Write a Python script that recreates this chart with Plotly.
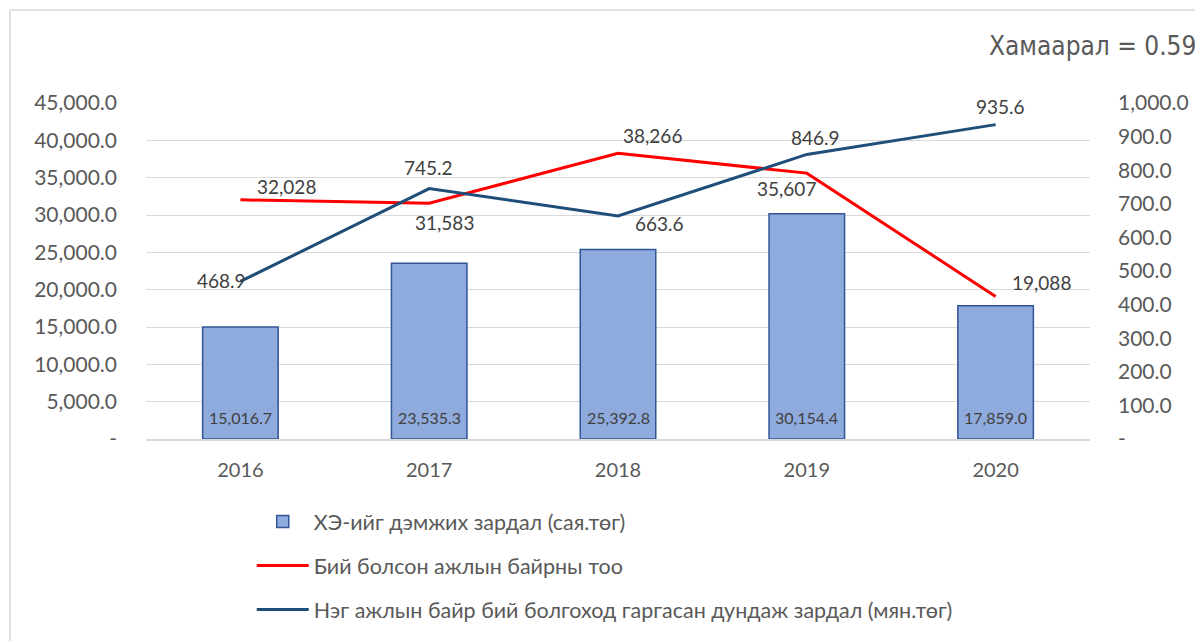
import plotly.graph_objects as go

years = ["2016", "2017", "2018", "2019", "2020"]
support_cost = [15016.7, 23535.3, 25392.8, 30154.4, 17859.0]
jobs_created = [32028, 31583, 38266, 35607, 19088]
avg_cost = [468.9, 745.2, 663.6, 846.9, 935.6]

support_labels = ["15,016.7", "23,535.3", "25,392.8", "30,154.4", "17,859.0"]
jobs_labels = ["32,028", "31,583", "38,266", "35,607", "19,088"]
avg_labels = ["468.9", "745.2", "663.6", "846.9", "935.6"]

left_ticks = [0, 5000, 10000, 15000, 20000, 25000, 30000, 35000, 40000, 45000]
left_ticktext = ["-", "5,000.0", "10,000.0", "15,000.0", "20,000.0", "25,000.0",
                 "30,000.0", "35,000.0", "40,000.0", "45,000.0"]
right_ticks = [0, 100, 200, 300, 400, 500, 600, 700, 800, 900, 1000]
right_ticktext = ["-", "100.0", "200.0", "300.0", "400.0", "500.0", "600.0",
                  "700.0", "800.0", "900.0", "1,000.0"]

name_bar = "ХЭ-ийг дэмжих зардал (сая.төг)"
name_red = "Бий болсон ажлын байрны тоо"
name_blue = "Нэг ажлын байр бий болгоход гаргасан дундаж зардал (мян.төг)"
title_text = "Хамаарал = 0.59"

# label offsets (style only)
red_shift = [(46, 13), (15, -19), (34, 18), (-20, -15), (46, 14)]
blue_shift = [(-19, 1), (-1, 21), (41, -7), (9, 17), (5, 18)]

FONT = "Lato, 'Open Sans', sans-serif"
TXT = "#404040"
TICK = "#595959"

fig = go.Figure()
fig.add_trace(go.Bar(
    x=years, y=support_cost, name=name_bar, legendgroup="a",
    marker=dict(color="#8FAADC", line=dict(color="#2F5597", width=1.5)),
    width=0.4,
))
fig.add_trace(go.Scatter(
    x=years, y=jobs_created, name=name_red, legendgroup="b", mode="lines",
    line=dict(color="#FF0000", width=3),
))
fig.add_trace(go.Scatter(
    x=years, y=avg_cost, name=name_blue, legendgroup="c", mode="lines",
    line=dict(color="#1F4E79", width=3), yaxis="y2",
))

annotations = []
for i, (v, t) in enumerate(zip(support_cost, support_labels)):
    annotations.append(dict(x=i, y=0, xref="x", yref="y", text=t, showarrow=False,
                            yshift=22, font=dict(family=FONT, size=16, color=TXT)))
for i, (v, t, (dx, dy)) in enumerate(zip(jobs_created, jobs_labels, red_shift)):
    annotations.append(dict(x=i, y=v, xref="x", yref="y", text=t, showarrow=False,
                            xshift=dx, yshift=dy, font=dict(family=FONT, size=19, color=TXT)))
for i, (v, t, (dx, dy)) in enumerate(zip(avg_cost, avg_labels, blue_shift)):
    annotations.append(dict(x=i, y=v, xref="x", yref="y2", text=t, showarrow=False,
                            xshift=dx, yshift=dy, font=dict(family=FONT, size=19, color=TXT)))
annotations.append(dict(x=0.891, y=1.17, xref="paper", yref="paper", text=title_text,
                        showarrow=False, xanchor="left", yanchor="middle",
                        font=dict(family="'DejaVu Sans Condensed', 'Liberation Sans Narrow', sans-serif",
                                  size=26, color=TICK)))

fig.update_layout(
    width=1195, height=633,
    margin=dict(l=138, r=113, t=95, b=202),
    paper_bgcolor="white", plot_bgcolor="white",
    font=dict(family=FONT, size=17, color=TICK),
    showlegend=True,
    legend=dict(orientation="v", x=0.112, y=0.221, xanchor="left", yanchor="top",
                yref="container",
                font=dict(family=FONT, size=21.5, color=TICK),
                tracegroupgap=13, itemwidth=52, traceorder="grouped"),
    xaxis=dict(type="category", range=[-0.5, len(years) - 0.5], showgrid=False,
               showline=True, linecolor="#D9D9D9",
               linewidth=1.5, ticks="", ticklabelstandoff=12,
               tickfont=dict(family=FONT, size=20, color=TICK)),
    yaxis=dict(range=[0, 45000], tickvals=left_ticks, ticktext=left_ticktext,
               showgrid=True, gridcolor="#D9D9D9", gridwidth=1.2, zeroline=False,
               ticks="", ticklabelstandoff=28,
               tickfont=dict(family=FONT, size=21, color=TICK)),
    yaxis2=dict(range=[0, 1000], tickvals=right_ticks, ticktext=right_ticktext,
                overlaying="y", side="right", showgrid=False, zeroline=False,
                ticks="", ticklabelstandoff=27,
                tickfont=dict(family=FONT, size=21, color=TICK)),
    annotations=annotations,
    shapes=[dict(type="rect", xref="paper", yref="paper", x0=-0.1441, x1=1.3,
                 y0=-0.8, y1=1.2768, line=dict(color="#D9D9D9", width=1.5),
                 fillcolor="rgba(0,0,0,0)", layer="below")],
)

fig.write_html("out.html")
